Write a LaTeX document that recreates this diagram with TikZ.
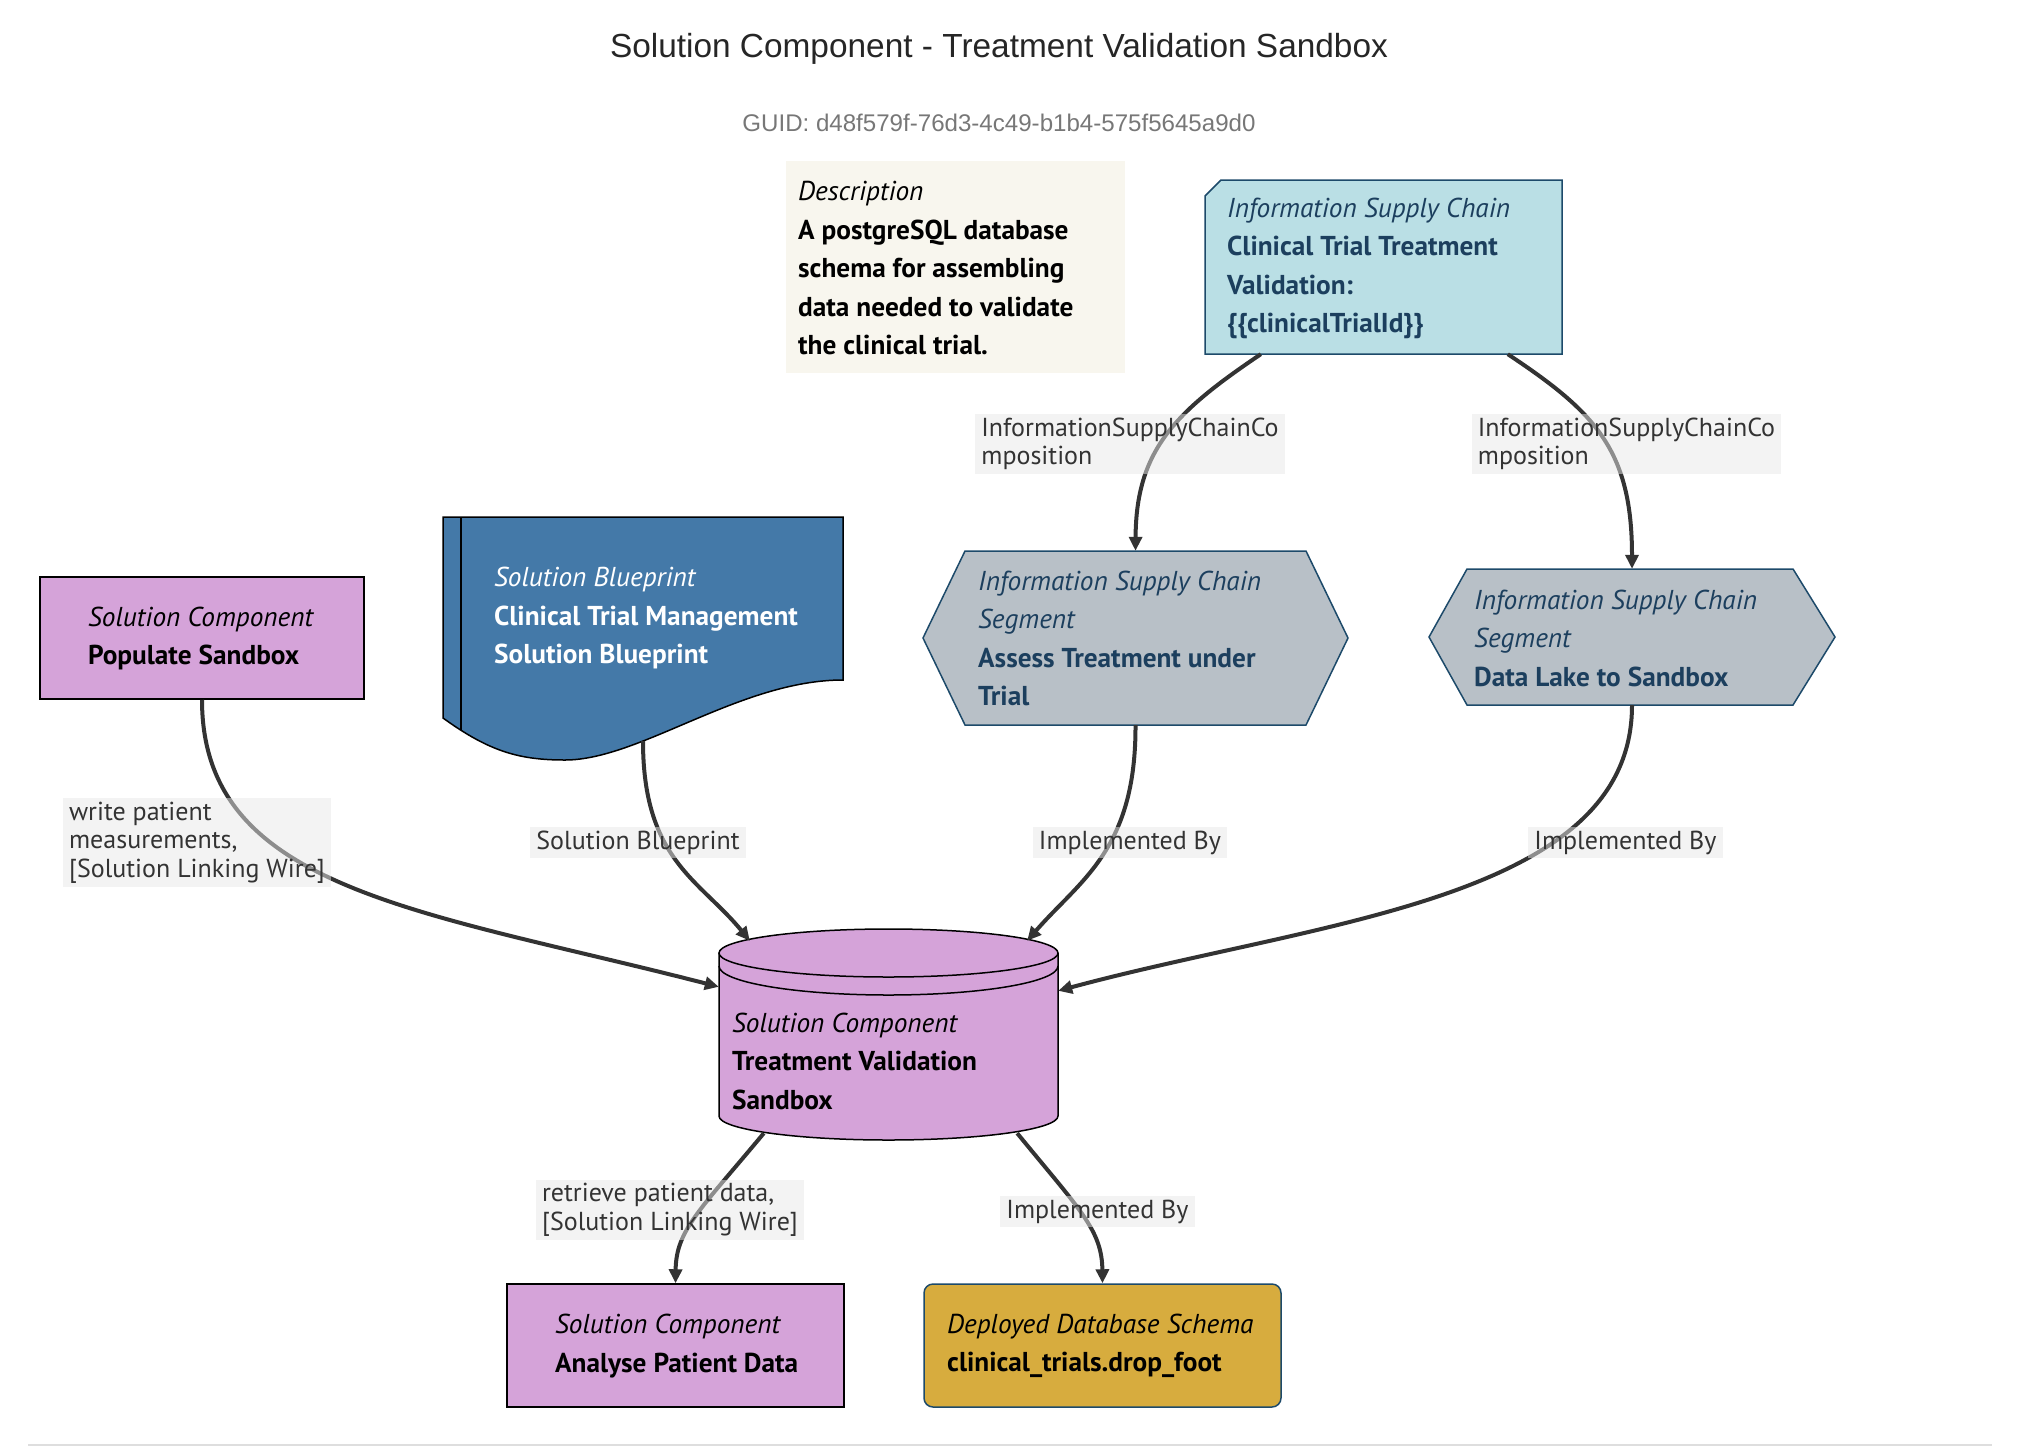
\documentclass[tikz,border=0pt]{standalone}
\usepackage{fontspec}
\setmainfont{PT Sans}
\newfontfamily\titlefont{Liberation Sans}
\usetikzlibrary{arrows.meta,calc}
\definecolor{compfill}{HTML}{D5A3D9}
\definecolor{bpfill}{HTML}{4479A8}
\definecolor{iscfill}{HTML}{BADFE5}
\definecolor{hexfill}{HTML}{B8C0C7}
\definecolor{depfill}{HTML}{D7AC3E}
\definecolor{descfill}{HTML}{F8F6EE}
\definecolor{navyline}{HTML}{1D4A6A}
\definecolor{navytext}{HTML}{1C3F5E}
\definecolor{edgecol}{HTML}{333333}
\definecolor{labelbg}{HTML}{E8E8E8}
\definecolor{guidcol}{HTML}{777777}
\tikzset{
  boxtext/.style={font=\fontsize{27.3}{38.5}\selectfont, align=left, inner sep=0pt, anchor=west},
  shapebox/.style={inner sep=0pt},
  conn/.style={draw=edgecol, line width=4pt, -{Triangle[length=14pt,width=13pt]}},
  elabel/.style={fill=labelbg, fill opacity=0.5, text opacity=1, text=edgecol,
    font=\fontsize{26}{28.5}\selectfont, align=left, inner xsep=6pt, inner ysep=4pt},
}
\begin{document}
\begin{tikzpicture}[x=1pt,y=-1pt]
\useasboundingbox (0,0) rectangle (2018,1446);

% title
\node[font=\titlefont\fontsize{33.4}{40}\selectfont, text=black!85] (title) at (999,49) {Solution Component - Treatment Validation Sandbox};
\node[font=\titlefont\fontsize{24.1}{28}\selectfont, text=guidcol] (guid) at (999,123) {GUID: d48f579f-76d3-4c49-b1b4-575f5645a9d0};

% description
\node[shapebox, fill=descfill, minimum width=339pt, minimum height=212pt] (desc) at (955.5,267) {};
\node[boxtext] (descT) at (798,268.5)
 {\textit{Description}\\\textbf{A postgreSQL database}\\\textbf{schema for assembling}\\\textbf{data needed to validate}\\\textbf{the clinical trial.}};

% information supply chain
\fill[iscfill] (1205,196) -- (1221,180) -- (1562,180) -- (1562,354) -- (1205,354) -- cycle;
\draw[navyline, line width=1.5pt] (1205,196) -- (1221,180) -- (1562,180) -- (1562,354) -- (1205,354) -- cycle;
\node[shapebox, minimum width=357pt, minimum height=174pt] (isc) at (1383.5,267) {};
\node[boxtext, text=navytext] (iscT) at (1227,268.5)
 {\textit{Information Supply Chain}\\\textbf{Clinical Trial Treatment}\\\textbf{Validation:}\\\textbf{\{\{clinicalTrialId\}\}}};

% populate sandbox
\node[shapebox, draw=black, line width=1.5pt, fill=compfill, minimum width=324pt, minimum height=122pt] (pop) at (202,638) {};
\node[boxtext] (popT) at (88,638.5)
 {\textit{Solution Component}\\\textbf{Populate Sandbox}};

% blueprint document
\fill[bpfill] (443,517) -- (843,517) -- (843,680) .. controls (740,680) and (640,760) .. (565,760) .. controls (520,760) and (490,752) .. (443,718) -- cycle;
\draw[black, line width=1.5pt] (443,517) -- (843,517) -- (843,680) .. controls (740,680) and (640,760) .. (565,760) .. controls (520,760) and (490,752) .. (443,718) -- cycle;
\draw[black, line width=1.5pt] (461,517) -- (461,730);
\node[shapebox, minimum width=400pt, minimum height=224pt] (bp) at (643,629) {};
\node[boxtext, text=white] (bpT) at (494,618)
 {\textit{Solution Blueprint}\\\textbf{Clinical Trial Management}\\\textbf{Solution Blueprint}};

% hexagon A
\fill[hexfill] (923,638) -- (965,551) -- (1306,551) -- (1348,638) -- (1306,725) -- (965,725) -- cycle;
\draw[navyline, line width=1.5pt] (923,638) -- (965,551) -- (1306,551) -- (1348,638) -- (1306,725) -- (965,725) -- cycle;
\node[shapebox, minimum width=425pt, minimum height=174pt] (hexA) at (1135.5,638) {};
\node[boxtext, text=navytext] (hexAT) at (978,638.5)
 {\textit{Information Supply Chain}\\\textit{Segment}\\\textbf{Assess Treatment under}\\\textbf{Trial}};

% hexagon B
\fill[hexfill] (1429,637) -- (1467,569) -- (1793,569) -- (1835,637) -- (1793,705) -- (1467,705) -- cycle;
\draw[navyline, line width=1.5pt] (1429,637) -- (1467,569) -- (1793,569) -- (1835,637) -- (1793,705) -- (1467,705) -- cycle;
\node[shapebox, minimum width=406pt, minimum height=136pt] (hexB) at (1632,637) {};
\node[boxtext, text=navytext] (hexBT) at (1474,638)
 {\textit{Information Supply Chain}\\\textit{Segment}\\\textbf{Data Lake to Sandbox}};

% cylinder
\fill[compfill] (719,953) -- (719,1116) arc[start angle=180, end angle=0, x radius=169.5, y radius=24] -- (1058,953) arc[start angle=0, end angle=-180, x radius=169.5, y radius=24] -- cycle;
\draw[black, line width=1.5pt] (719,953) -- (719,1116) arc[start angle=180, end angle=0, x radius=169.5, y radius=24] -- (1058,953);
\draw[black, line width=1.5pt] (888.5,953) ellipse[x radius=169.5, y radius=24];
\draw[black, line width=1.5pt] (719,966) arc[start angle=180, end angle=0, x radius=169.5, y radius=29];
\node[shapebox, minimum width=339pt, minimum height=211pt] (cyl) at (888.5,1034.5) {};
\node[boxtext] (cylT) at (732,1061)
 {\textit{Solution Component}\\\textbf{Treatment Validation}\\\textbf{Sandbox}};

% analyse
\node[shapebox, draw=black, line width=1.5pt, fill=compfill, minimum width=337pt, minimum height=123pt] (ana) at (675.5,1345.5) {};
\node[boxtext] (anaT) at (555,1346)
 {\textit{Solution Component}\\\textbf{Analyse Patient Data}};

% deployed
\node[shapebox, draw=navyline, line width=1.5pt, fill=depfill, rounded corners=9pt, minimum width=357pt, minimum height=123pt] (dep) at (1102.5,1345.5) {};
\node[boxtext] (depT) at (947,1346)
 {\textit{Deployed Database Schema}\\\textbf{clinical\_trials.drop\_foot}};

% ports
\coordinate (iscA) at ($(isc.south west)+(56,0)$);
\coordinate (iscB) at ($(isc.south west)+(303,0)$);
\coordinate (cylW) at ($(cyl.north west)+(0,58)$);
\coordinate (cylE) at ($(cyl.north east)+(0,62)$);
\coordinate (cylNW) at ($(cyl.north west)+(31,12)$);
\coordinate (cylNE) at ($(cyl.north east)+(-31,12)$);
\coordinate (cylSW) at ($(cyl.south west)+(45,-7)$);
\coordinate (cylSE) at ($(cyl.south east)+(-41,-7)$);

% connectors
\draw[conn] (iscA) .. controls (1175,412) and (1136,450) .. (hexA.north);
\draw[conn] (iscB) .. controls (1595,412) and (1632,450) .. (hexB.north);
\draw[conn] (pop.south) .. controls (202,890) and (420,910) .. (cylW);
\draw[conn] (bp.south) .. controls (643,860) and (700,880) .. (cylNW);
\draw[conn] (hexA.south) .. controls (1136,850) and (1080,880) .. (cylNE);
\draw[conn] (hexB.south) .. controls (1632,900) and (1320,920) .. (cylE);
\draw[conn] (cylSW) .. controls (700,1210) and (676,1230) .. (ana.north);
\draw[conn] (cylSE) .. controls (1080,1210) and (1102,1230) .. (dep.north);

% labels
\node[elabel] (l1) at (1130,444) {InformationSupplyChainCo\\mposition};
\node[elabel] (l2) at (1626.5,444) {InformationSupplyChainCo\\mposition};
\node[elabel] (l3) at (197,842.5) {write patient\\measurements,\\{[Solution Linking Wire]}};
\node[elabel] (l4) at (638,842.5) {Solution Blueprint};
\node[elabel] (l5) at (1130,842.5) {Implemented By};
\node[elabel] (l6) at (1625.5,842.5) {Implemented By};
\node[elabel] (l7) at (670,1210) {retrieve patient data,\\{[Solution Linking Wire]}};
\node[elabel] (l8) at (1097.5,1211.5) {Implemented By};

% bottom rule
\draw[black!13, line width=2pt] (28,1445) -- (1992,1445);
\end{tikzpicture}
\end{document}
